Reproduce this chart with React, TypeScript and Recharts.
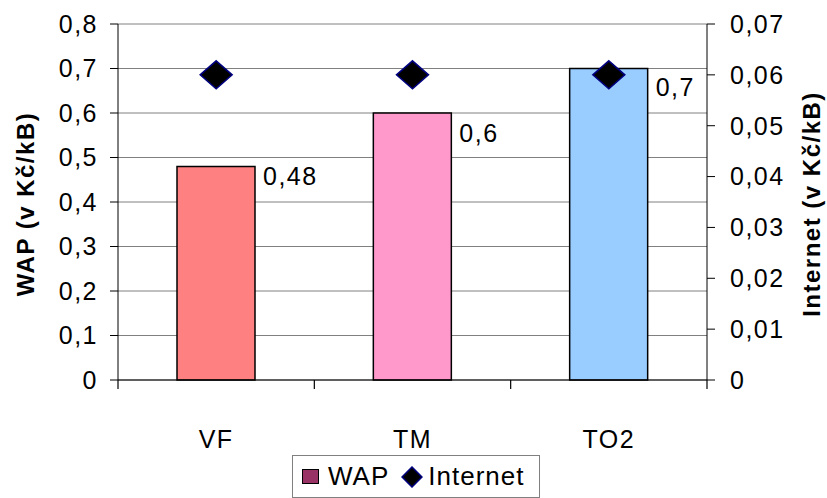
import {
    ComposedChart,
    Bar,
    Line,
    Cell,
    XAxis,
    YAxis,
    CartesianGrid,
} from 'recharts';

const operators = ['VF', 'TM', 'TO2'];
const wapPrices = [0.48, 0.6, 0.7];
const internetPrices = [0.06, 0.06, 0.06];
const leftTicks = [0, 0.1, 0.2, 0.3, 0.4, 0.5, 0.6, 0.7, 0.8];
const rightTicks = [0, 0.01, 0.02, 0.03, 0.04, 0.05, 0.06, 0.07];

const barColors = ['#FF8080', '#FF99CC', '#99CCFF'];
const labelNudge = [10, 20, 18];

const FONT = '"Liberation Sans", Arial, sans-serif';
const X_TICK_MARGIN = 50;

const chartData = operators.map((name, i) => ({
    name,
    wap: wapPrices[i],
    internet: internetPrices[i],
}));

const fmt = (v: number) => String(v).replace('.', ',');

function Diamond(props: any) {
    const { cx, cy, index } = props;
    if (cx == null || cy == null) return null;
    return (
        <path
            key={`d-${index}`}
            d={`M${cx},${cy - 14} L${cx + 16},${cy} L${cx},${cy + 14} L${cx - 16},${cy} Z`}
            fill="#000"
            stroke="#000080"
            strokeWidth={1.5}
        />
    );
}

function BarValue(props: any) {
    const { x, y, width, value, index } = props;
    return (
        <text
            x={x + width + 8}
            y={y + labelNudge[index]}
            dominantBaseline="central"
            fontSize={25}
            letterSpacing={1.5}
            fontFamily={FONT}
            fill="#000"
        >
            {fmt(value)}
        </text>
    );
}

// category label plus Excel-style tick marks between the categories
function CategoryTick(props: any) {
    const { x, y, payload, index } = props;
    const half = Number(payload?.offset) || 0;
    const axisY = Number(y) - X_TICK_MARGIN;
    const last = index === operators.length - 1;
    const left = Number(x) - half;
    const right = Number(x) + half;
    return (
        <g>
            <path d={`M${left},${axisY}V${axisY + 9}`} stroke="#000" strokeWidth={1.2} fill="none" />
            {last && <path d={`M${right},${axisY}V${axisY + 9}`} stroke="#000" strokeWidth={1.2} fill="none" />}
            <text
                x={x}
                y={y}
                dy={18}
                textAnchor="middle"
                fontSize={25}
                letterSpacing={1.5}
                fontFamily={FONT}
                fill="#000"
            >
                {payload.value}
            </text>
        </g>
    );
}

function AxisTitle({ text, cx }: { text: string; cx: number }) {
    return (
        <text
            x={cx}
            y={204}
            transform={`rotate(-90 ${cx} 204)`}
            textAnchor="middle"
            dominantBaseline="central"
            fontSize={24}
            letterSpacing={1.5}
            fontWeight="bold"
            fontFamily={FONT}
            fill="#000"
        >
            {text}
        </text>
    );
}

export default function App() {
    const tickStyle = { fontSize: 25, fontFamily: FONT, fill: '#000', letterSpacing: 1.5 };
    return (
        <div style={{ position: 'absolute', left: 0, top: 0, width: 827, height: 498, background: '#fff' }}>
            <ComposedChart
                width={827}
                height={498}
                data={chartData}
                margin={{ top: 24, right: 0, bottom: 0, left: 0 }}
            >
                <CartesianGrid yAxisId="left" vertical={false} stroke="#808080" />
                <XAxis
                    dataKey="name"
                    tickLine={false}
                    tickSize={0}
                    tickMargin={X_TICK_MARGIN}
                    axisLine={{ stroke: '#000' }}
                    tick={CategoryTick}
                    interval={0}
                    height={118}
                />
                <YAxis
                    yAxisId="left"
                    domain={[0, 0.8]}
                    ticks={leftTicks}
                    tickFormatter={fmt}
                    width={118}
                    tickSize={8}
                    tickMargin={12}
                    axisLine={{ stroke: '#000' }}
                    tickLine={{ stroke: '#000' }}
                    tick={tickStyle}
                    label={() => <AxisTitle text="WAP (v Kč/kB)" cx={25} />}
                />
                <YAxis
                    yAxisId="right"
                    orientation="right"
                    domain={[0, 0.07]}
                    ticks={rightTicks}
                    tickFormatter={fmt}
                    width={120}
                    tickSize={8}
                    tickMargin={15}
                    axisLine={{ stroke: '#000' }}
                    tickLine={{ stroke: '#000' }}
                    tick={{ ...tickStyle, textAnchor: 'start' }}
                    label={() => <AxisTitle text="Internet (v Kč/kB)" cx={811} />}
                />
                <Bar
                    yAxisId="left"
                    dataKey="wap"
                    barSize={78}
                    stroke="#000"
                    strokeWidth={1.5}
                    isAnimationActive={false}
                    label={BarValue}
                >
                    {chartData.map((d, i) => (
                        <Cell key={d.name} fill={barColors[i]} />
                    ))}
                </Bar>
                <Line
                    yAxisId="right"
                    dataKey="internet"
                    stroke="none"
                    dot={Diamond}
                    activeDot={false}
                    isAnimationActive={false}
                />
            </ComposedChart>
            <div
                style={{
                    position: 'absolute',
                    left: 292,
                    top: 455,
                    width: 248,
                    height: 43,
                    border: '1px solid #808080',
                    fontFamily: FONT,
                    fontSize: 26,
                    letterSpacing: 1,
                    display: 'flex',
                    alignItems: 'center',
                    boxSizing: 'border-box',
                    paddingLeft: 9,
                    color: '#000',
                }}
            >
                <span style={{ width: 17, height: 15, background: '#993366', border: '1px solid #000', boxSizing: 'border-box', marginRight: 9 }} />
                <span>WAP</span>
                <svg width={22} height={22} style={{ marginLeft: 12, marginRight: 5 }}>
                    <path d="M11,1 L21,11 L11,21 L1,11 Z" fill="#000" stroke="#000080" strokeWidth={1.5} />
                </svg>
                <span>Internet</span>
            </div>
        </div>
    );
}
